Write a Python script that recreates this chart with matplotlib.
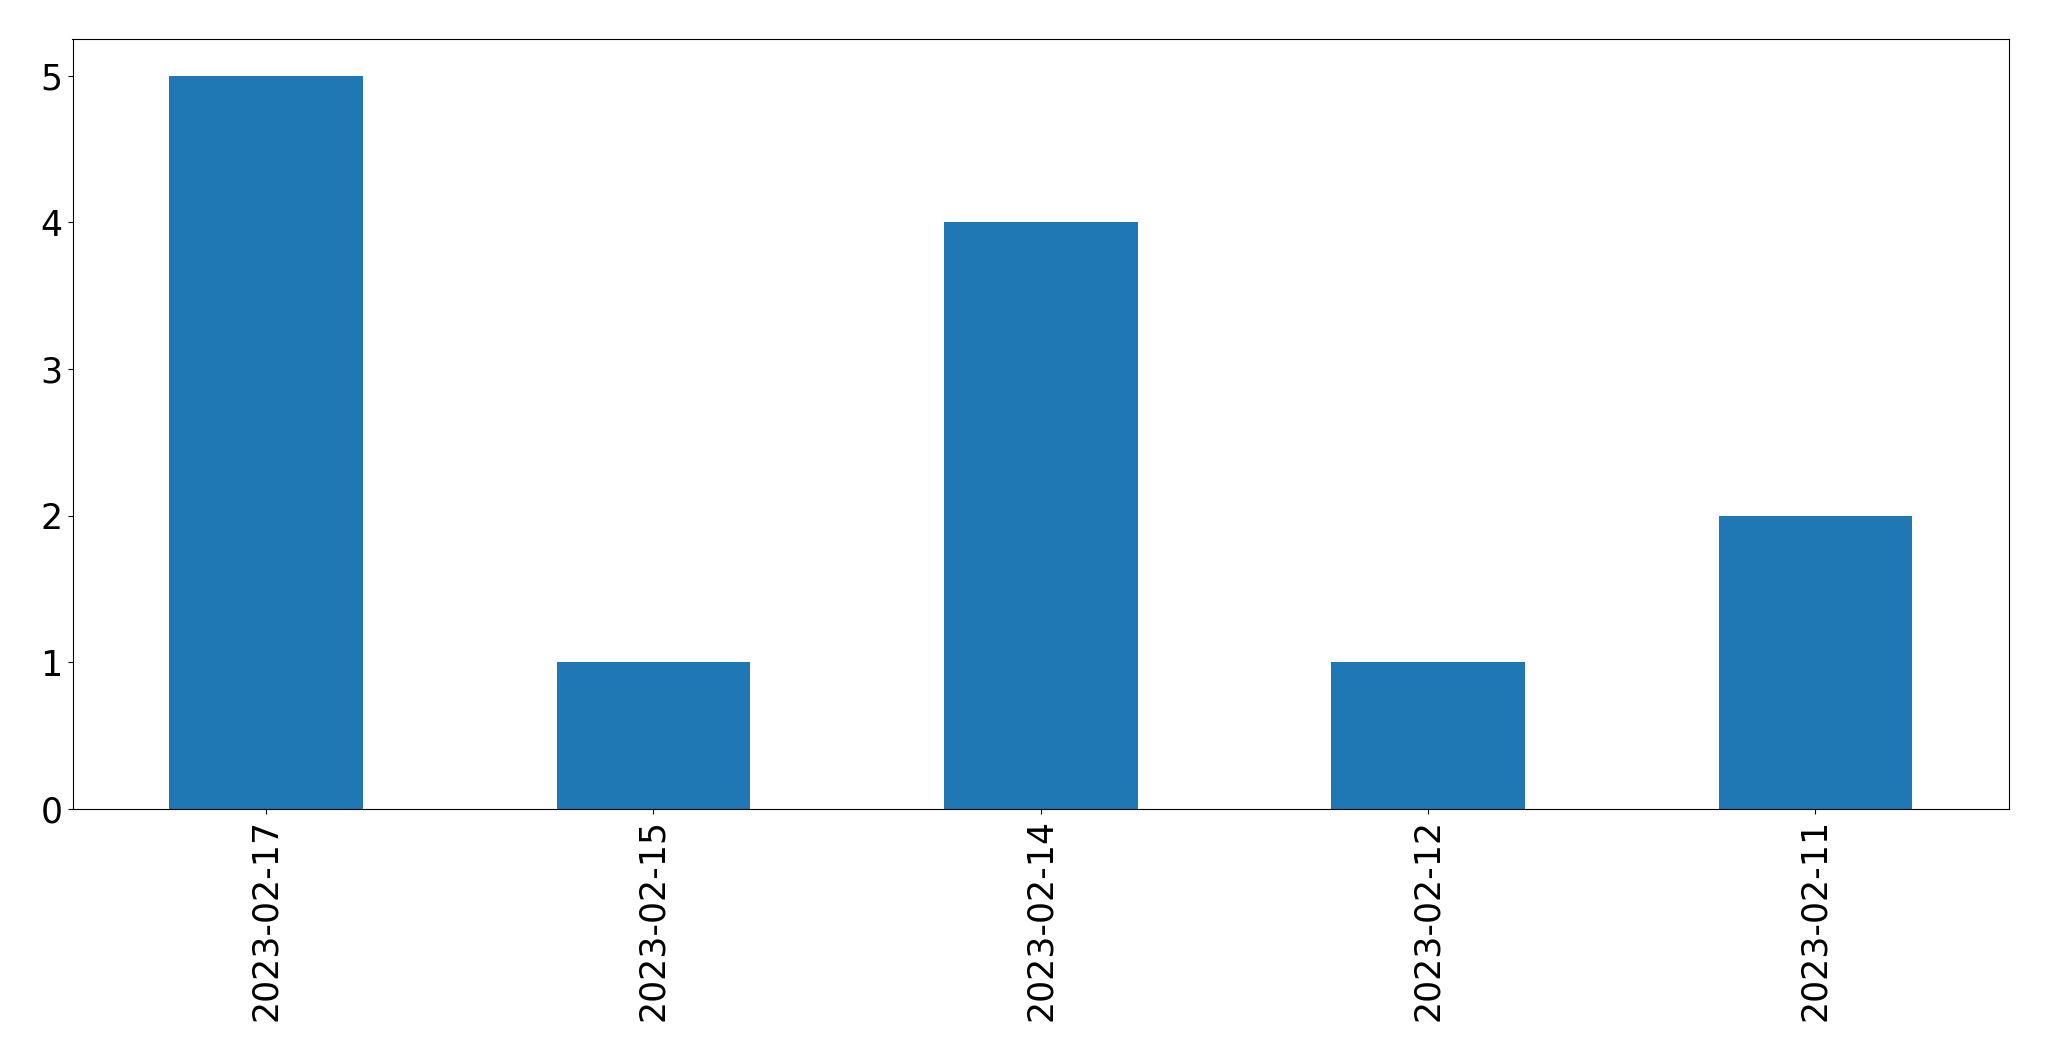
import matplotlib
matplotlib.use("Agg")
import matplotlib.pyplot as plt
import pandas as pd

dates = ["2023-02-17", "2023-02-15", "2023-02-14", "2023-02-12", "2023-02-11"]
counts = [5, 1, 4, 1, 2]

data = pd.Series(counts, index=dates)

fig, ax = plt.subplots(figsize=(20.49, 10.61), dpi=100)
data.plot(kind='bar', ax=ax, color='#1f77b4')
ax.tick_params(axis='both', labelsize=25)
plt.xticks(rotation=90)
fig.subplots_adjust(left=72.5 / 2049, right=2009 / 2049, top=1 - 39 / 1061, bottom=1 - 809 / 1061)
fig.savefig("out.png", dpi=100)
